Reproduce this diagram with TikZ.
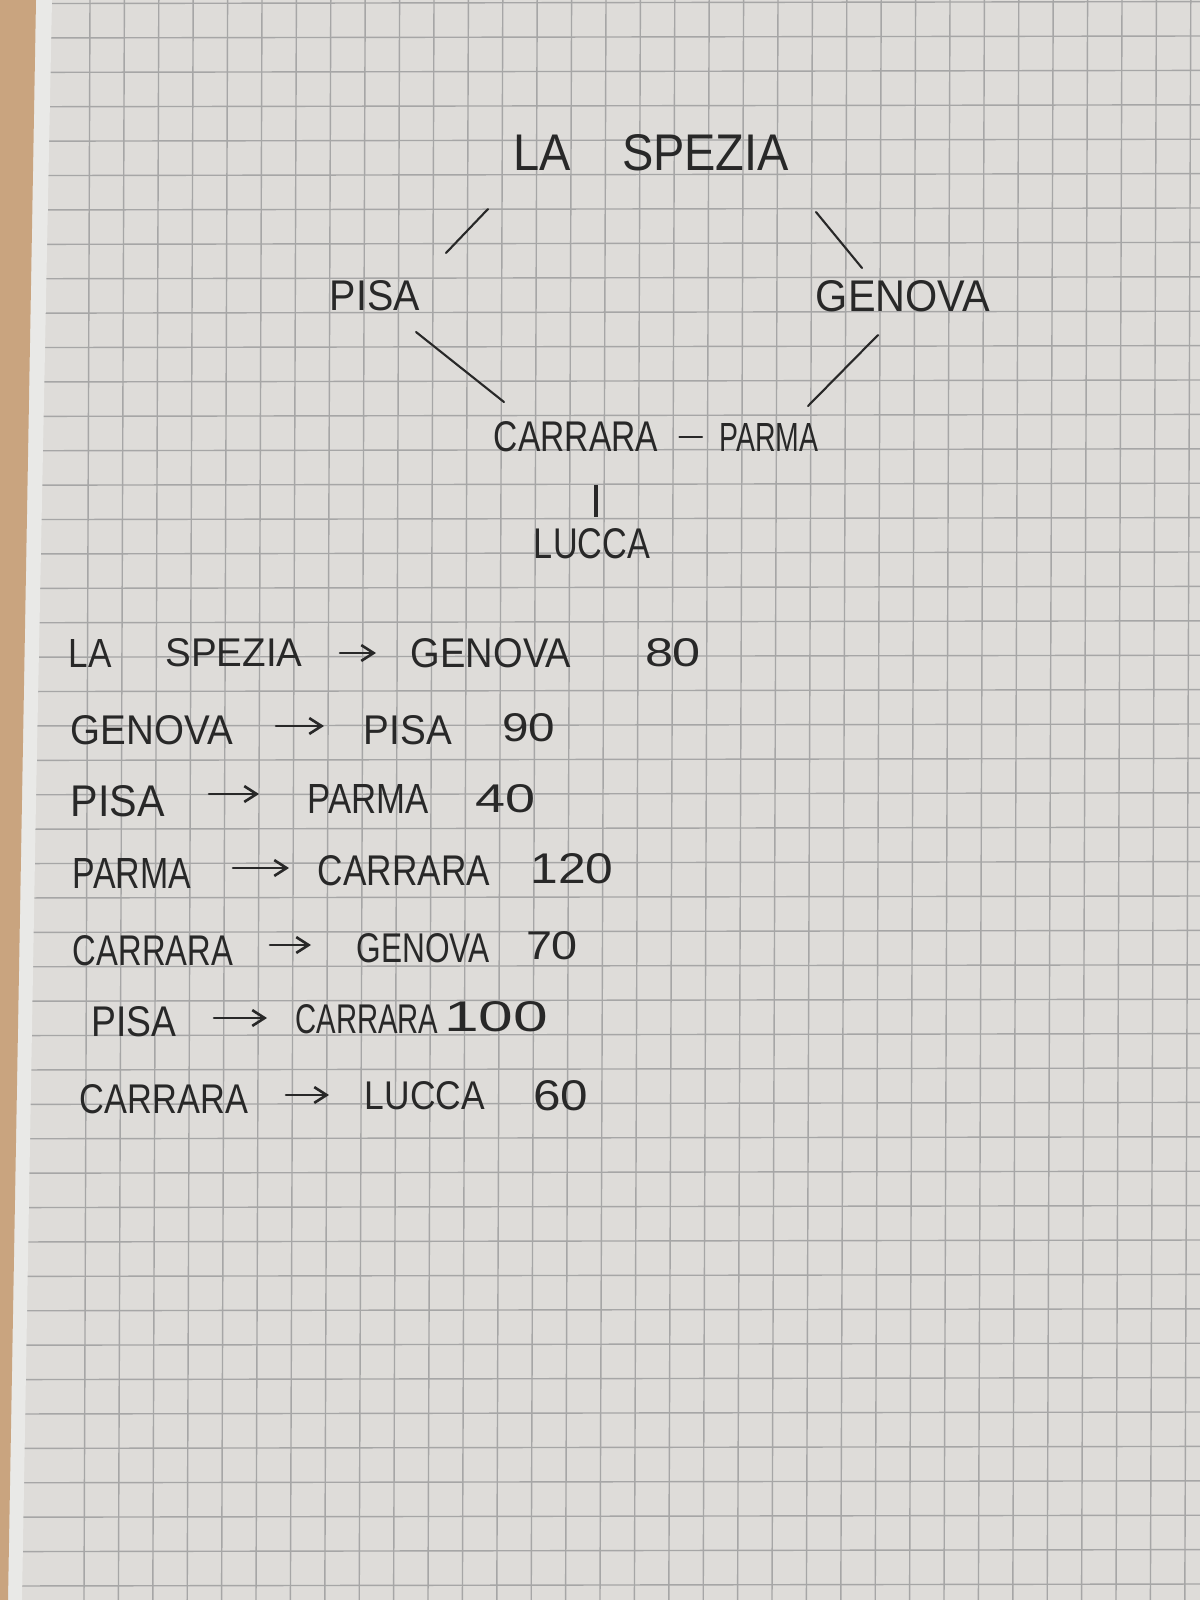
\documentclass[tikz,border=0pt]{standalone}
\usepackage{fontspec}
\setmainfont{Liberation Sans}
\usetikzlibrary{arrows.meta}
\newlength\pxu \setlength\pxu{0.02cm}
\newcommand\hw[3]{\resizebox{#1\pxu}{#2\pxu}{#3}}
\definecolor{paper}{HTML}{DEDCD9}
\definecolor{gridc}{HTML}{A6A6A6}
\definecolor{wood}{HTML}{C9A47F}
\definecolor{edgewhite}{HTML}{E9E9E7}
\definecolor{ink}{HTML}{282828}
\tikzset{
  lbl/.style={inner sep=0pt, text=ink},
  gline/.style={draw=gridc, line width=0.8pt},
  edge/.style={draw=ink, line width=1.2pt, line cap=round},
  thickedge/.style={draw=ink, line width=2.8pt},
  listarrow/.style={draw=ink, line width=1.5pt, line cap=round, -{Straight Barb[length=7pt,width=9pt,line width=1.5pt]}}
}
\begin{document}
\begin{tikzpicture}[x=0.02cm,y=-0.02cm]
\useasboundingbox (0,0) rectangle (1200,1600);
% paper and background
\fill[paper] (0,0) rectangle (1200,1600);
\foreach \i in {0,...,32} {\draw[gline] ({90+\i*34.4},0) -- ({84+\i*34.4},1600);}
\foreach \k in {-1,...,46} {\draw[gline] (0,{38+\k*34.4}) -- (1200,{36+\k*34.4});}
\fill[edgewhite] (0,0) -- (52,0) -- (36,800) -- (22,1600) -- (0,1600) -- cycle;
\fill[wood] (0,0) -- (36,0) -- (22,800) -- (8,1600) -- (0,1600) -- cycle;

% graph labels
\node[lbl] (lasp) at (651,153) {\hw{276}{36}{LA\hspace{1.1em}SPEZIA}};
\node[lbl] (pisa) at (375,296) {\hw{90}{30}{PISA}};
\node[lbl] (genova) at (903,296) {\hw{174}{31}{GENOVA}};
\node[lbl] (carrara) at (576,437) {\hw{164}{30}{CARRARA}};
\node[lbl] (parma) at (769,437) {\hw{99}{28}{PARMA}};
\node[lbl] (lucca) at (592,544) {\hw{116}{30}{LUCCA}};

% graph edges
\coordinate (e1a) at (488,209); \coordinate (e1b) at (446,253);
\coordinate (e2a) at (816,212); \coordinate (e2b) at (862,268);
\coordinate (e3a) at (416,332); \coordinate (e3b) at (504,402);
\coordinate (e4a) at (878,335); \coordinate (e4b) at (808,406);
\coordinate (e5a) at (596,485); \coordinate (e5b) at (596,517);
\draw[edge] (e1a) -- (e1b);
\draw[edge] (e2a) -- (e2b);
\draw[edge] (e3a) -- (e3b);
\draw[edge] (e4a) -- (e4b);
\draw[edge, shorten <=0.42cm, shorten >=0.34cm] (carrara) -- (parma);
\draw[thickedge] (e5a) -- (e5b);

% list row 1
\node[lbl] (r1a) at (90,653) {\hw{43}{28}{LA}};
\node[lbl] (r1b) at (234,653) {\hw{137}{28}{SPEZIA}};
\node[lbl] (r1c) at (491,653) {\hw{160}{29}{GENOVA}};
\node[lbl] (r1d) at (673,653) {\hw{56}{28}{80}};
\coordinate (a1s) at (340,653); \coordinate (a1e) at (376,653);
\draw[listarrow] (a1s) -- (a1e);
% row 2
\node[lbl] (r2a) at (152,730) {\hw{162}{29}{GENOVA}};
\node[lbl] (r2c) at (408,730) {\hw{88}{29}{PISA}};
\node[lbl] (r2d) at (529,728) {\hw{53}{28}{90}};
\coordinate (a2s) at (276,726); \coordinate (a2e) at (324,726);
\draw[listarrow] (a2s) -- (a2e);
% row 3
\node[lbl] (r3a) at (118,801) {\hw{94}{31}{PISA}};
\node[lbl] (r3c) at (368,799) {\hw{121}{29}{PARMA}};
\node[lbl] (r3d) at (506,799) {\hw{60}{28}{40}};
\coordinate (a3s) at (209,794); \coordinate (a3e) at (259,794);
\draw[listarrow] (a3s) -- (a3e);
% row 4
\node[lbl] (r4a) at (132,873) {\hw{118}{30}{PARMA}};
\node[lbl] (r4c) at (404,871) {\hw{172}{30}{CARRARA}};
\node[lbl] (r4d) at (572,869) {\hw{83}{30}{120}};
\coordinate (a4s) at (233,868); \coordinate (a4e) at (289,868);
\draw[listarrow] (a4s) -- (a4e);
% row 5
\node[lbl] (r5a) at (153,951) {\hw{160}{30}{CARRARA}};
\node[lbl] (r5c) at (423,948) {\hw{133}{29}{GENOVA}};
\node[lbl] (r5d) at (552,946) {\hw{52}{28}{70}};
\coordinate (a5s) at (270,945); \coordinate (a5e) at (311,945);
\draw[listarrow] (a5s) -- (a5e);
% row 6
\node[lbl] (r6a) at (134,1022) {\hw{85}{30}{PISA}};
\node[lbl] (r6c) at (367,1019) {\hw{143}{29}{CARRARA}};
\node[lbl] (r6d) at (496,1017) {\hw{104}{30}{100}};
\coordinate (a6s) at (214,1018); \coordinate (a6e) at (267,1018);
\draw[listarrow] (a6s) -- (a6e);
% row 7
\node[lbl] (r7a) at (164,1099) {\hw{168}{29}{CARRARA}};
\node[lbl] (r7c) at (425,1096) {\hw{120}{28}{LUCCA}};
\node[lbl] (r7d) at (561,1096) {\hw{55}{30}{60}};
\coordinate (a7s) at (286,1095); \coordinate (a7e) at (329,1095);
\draw[listarrow] (a7s) -- (a7e);
\end{tikzpicture}
\end{document}
